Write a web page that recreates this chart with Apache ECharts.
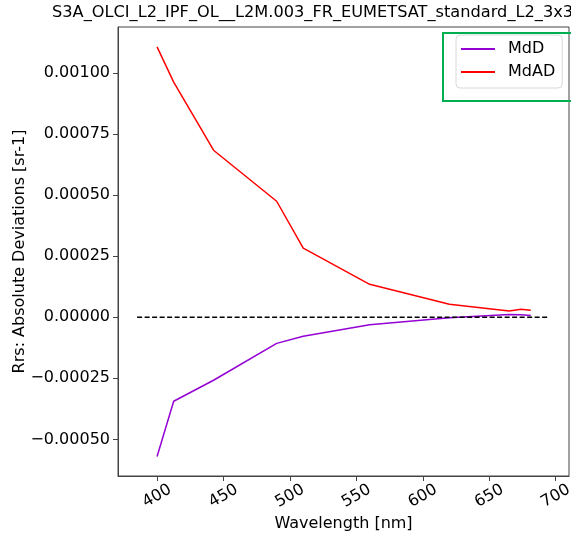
<!DOCTYPE html>
<html><head><meta charset="utf-8">
<script src="https://cdn.jsdelivr.net/npm/echarts@6/dist/echarts.min.js"></script>
<style>html,body{margin:0;padding:0;background:#fff}#c{width:571px;height:534px}</style>
</head><body><div id="c"></div>
<script>
const titleText = "S3A_OLCI_L2_IPF_OL__L2M.003_FR_EUMETSAT_standard_L2_3x3";
const wavelengths = [400, 412.5, 442.5, 490, 510, 560, 620, 665, 673.75, 681.25];
const mdD  = [-0.000570, -0.000344, -0.000258, -0.000107, -0.000078, -0.000031, -0.000002, 0.000011, 0.000010, 0.000007];
const mdAD = [0.001107, 0.000963, 0.000684, 0.000475, 0.000283, 0.000135, 0.000053, 0.000026, 0.000033, 0.000029];
const zeroLineX = [385, 695];
const xTicks = [400, 450, 500, 550, 600, 650, 700];
const yTicks = [-0.0005, -0.00025, 0, 0.00025, 0.0005, 0.00075, 0.001];
const seriesNames = ["MdD", "MdAD"];

const font = "DejaVu Sans";
const fs = 16;
const chart = echarts.init(document.getElementById('c'), null, {renderer: 'canvas'});
const pair = (xs, ys) => xs.map((x, i) => [x, ys[i]]);
chart.setOption({
  animation: false,
  backgroundColor: '#fff',
  title: {
    text: titleText, left: 52, top: 5, padding: 0,
    textStyle: {fontFamily: font, fontSize: 16.2, fontWeight: 'normal', color: '#000'}
  },
  grid: {left: 118, right: 2, top: 27, bottom: 58, outerBoundsMode: 'none', containLabel: false,
    show: true, borderColor: '#444', borderWidth: 1, backgroundColor: 'transparent'},
  xAxis: {
    type: 'value', min: 370.6, max: 710,
    name: 'Wavelength [nm]', nameLocation: 'middle', nameGap: 40, nameMoveOverlap: false,
    nameTextStyle: {fontFamily: font, fontSize: fs, color: '#000'},
    axisLine: {show: true, onZero: false, lineStyle: {color: '#444'}},
    axisTick: {show: true, length: 5, lineStyle: {color: '#444'}, customValues: xTicks},
    axisLabel: {fontFamily: font, fontSize: fs, color: '#000', rotate: 30, margin: 20,
      align: 'center', verticalAlign: 'middle', customValues: xTicks,
      formatter: v => String(v)},
    splitLine: {show: false}
  },
  yAxis: {
    type: 'value', min: -0.00065, max: 0.0011885,
    name: 'Rrs: Absolute Deviations [sr-1]', nameLocation: 'middle', nameGap: 90, nameMoveOverlap: false,
    nameTextStyle: {fontFamily: font, fontSize: fs, color: '#000'},
    axisLine: {show: true, onZero: false, lineStyle: {color: '#444'}},
    axisTick: {show: true, length: 5, lineStyle: {color: '#444'}, customValues: yTicks},
    axisLabel: {fontFamily: font, fontSize: fs, color: '#000', margin: 8, customValues: yTicks,
      formatter: v => (v < 0 ? '\u2212' : '') + Math.abs(v).toFixed(5)},
    splitLine: {show: false}
  },
  legend: {
    data: seriesNames, orient: 'vertical', left: 456, top: 35,
    padding: [6, 7, 8, 5], itemGap: 7, itemWidth: 34, itemHeight: 2, icon: 'rect',
    backgroundColor: '#fff', borderColor: '#d8d8d8', borderWidth: 1, borderRadius: 4,
    textStyle: {fontFamily: font, fontSize: fs, color: '#000', padding: [0, 0, 0, 8]}
  },
  series: [
    {name: seriesNames[0], type: 'line', data: pair(wavelengths, mdD), showSymbol: false, symbol: 'none',
     lineStyle: {color: '#9400D3', width: 1.5}, itemStyle: {color: '#9400D3'}},
    {name: seriesNames[1], type: 'line', data: pair(wavelengths, mdAD), showSymbol: false, symbol: 'none',
     lineStyle: {color: '#ff0000', width: 1.5}, itemStyle: {color: '#ff0000'}},
    {name: 'zero', type: 'line', data: zeroLineX.map(x => [x, 0]), showSymbol: false, symbol: 'none',
     lineStyle: {color: '#000', width: 1.3, type: [5, 2.5]}, itemStyle: {color: '#000'}}
  ],
  graphic: [{
    type: 'rect', shape: {x: 443, y: 33, width: 140, height: 68},
    style: {fill: 'none', stroke: '#00b050', lineWidth: 2}, z: 100
  }]
});
</script></body></html>
